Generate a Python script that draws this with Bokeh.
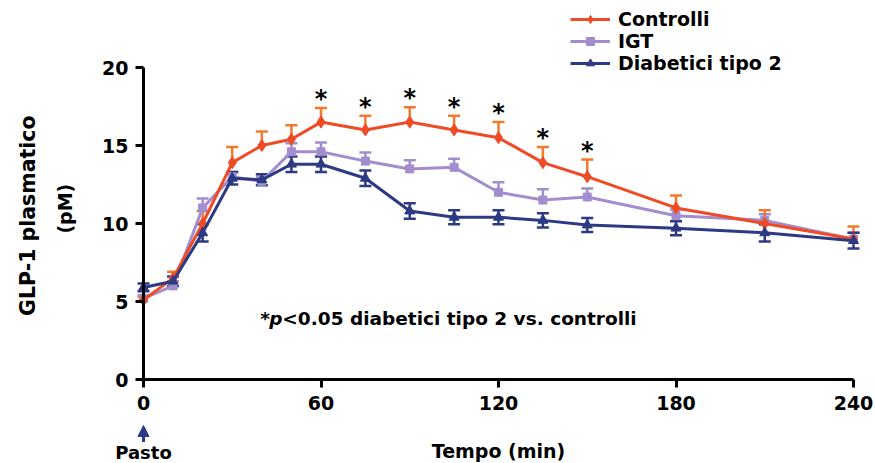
import math
from bokeh.plotting import figure
from bokeh.models import (Range1d, FixedTicker, Legend, LegendItem,
                          Whisker, TeeHead, ColumnDataSource, Label, Arrow, NormalHead)
from bokeh.embed import file_html
from bokeh.resources import INLINE
from bokeh.core.properties import value

# ---------------- data ----------------
time_min = [0, 10, 20, 30, 40, 50, 60, 75, 90, 105, 120, 135, 150, 180, 210, 240]

controlli = [5.1, 6.5, 10.0, 13.9, 15.0, 15.4, 16.5, 16.0, 16.5, 16.0, 15.5, 13.9, 13.0, 11.0, 10.0, 9.0]
controlli_err = [0.2, 0.4, 0.8, 1.0, 0.9, 0.9, 0.9, 0.9, 0.95, 0.9, 1.0, 1.0, 1.1, 0.8, 0.85, 0.8]

igt = [5.2, 6.0, 11.0, 13.0, 12.7, 14.6, 14.6, 14.0, 13.5, 13.6, 12.0, 11.5, 11.7, 10.5, 10.2, 9.0]
igt_err = [0.2, 0.3, 0.6, 0.3, 0.3, 0.55, 0.6, 0.55, 0.55, 0.55, 0.65, 0.7, 0.55, 0.4, 0.4, 0.4]

diabetici = [5.9, 6.3, 9.4, 12.9, 12.8, 13.8, 13.8, 12.9, 10.8, 10.4, 10.4, 10.2, 9.9, 9.7, 9.4, 8.9]
diabetici_err = [0.25, 0.3, 0.55, 0.4, 0.35, 0.5, 0.5, 0.5, 0.5, 0.45, 0.45, 0.45, 0.45, 0.45, 0.55, 0.5]

signif_times = [60, 75, 90, 105, 120, 135, 150]

x_ticks = [0, 60, 120, 180, 240]
y_ticks = [0, 5, 10, 15, 20]

series_names = ["Controlli", "IGT", "Diabetici tipo 2"]
note_star = "*"
note_p = "p"
note_rest = "<0.05 diabetici tipo 2 vs. controlli"
x_label = "Tempo (min)"
y_label_1 = "GLP-1 plasmatico"
y_label_2 = "(pM)"
meal_label = "Pasto"

# ---------------- style ----------------
FONT = "DejaVu Sans"
C_CTRL = "#EE4B26"
C_CTRL_ERR = "#F07A2E"
C_IGT = "#A28ECF"
C_DM = "#2C3983"

W, H = 875, 463
X0_PX, XSCALE = 143.0, 710.0 / 240.0   # pixel of t=0, px per minute
Y0_PX, YSCALE = 379.0, 15.6            # pixel of 0 pM, px per pM

p = figure(width=W, height=H, output_backend="svg", toolbar_location=None,
           x_range=Range1d(-X0_PX / XSCALE, (W - X0_PX) / XSCALE),
           y_range=Range1d((Y0_PX - H) / YSCALE, Y0_PX / YSCALE),
           min_border=0, min_border_left=0, min_border_right=0,
           min_border_top=0, min_border_bottom=0,
           background_fill_color="white", border_fill_color="white")
p.outline_line_color = None
p.grid.visible = False

for ax in (p.xaxis[0], p.yaxis[0]):
    ax.fixed_location = 0
    ax.axis_line_width = 3
    ax.axis_line_color = "black"
    ax.major_tick_line_width = 3
    ax.major_tick_line_color = "black"
    ax.major_tick_out = 8
    ax.major_tick_in = 0
    ax.minor_tick_out = 0
    ax.minor_tick_in = 0
    ax.major_label_text_font = FONT
    ax.major_label_text_font_style = "bold"
    ax.major_label_text_font_size = "19px"
    ax.major_label_text_color = "black"

p.xaxis.ticker = FixedTicker(ticks=x_ticks)
p.yaxis.ticker = FixedTicker(ticks=y_ticks)
p.xaxis.bounds = (0, 240)
p.yaxis.bounds = (0, 20)
p.xaxis.major_label_standoff = 8
p.yaxis.major_label_standoff = 7

# ---------------- series ----------------
def add_series(ys, errs, color, err_color, marker, msize, both):
    lower = [y - e for y, e in zip(ys, errs)] if both else list(ys)
    upper = [y + e for y, e in zip(ys, errs)]
    src = ColumnDataSource(dict(x=time_min, y=ys, lower=lower, upper=upper))
    w = Whisker(source=src, base="x", upper="upper", lower="lower", dimension="height",
                line_color=err_color, line_width=2.5,
                upper_head=TeeHead(size=12, line_color=err_color, line_width=2.5),
                lower_head=TeeHead(size=12, line_color=err_color, line_width=2.5) if both else None)
    p.add_layout(w)
    ln = p.line("x", "y", source=src, line_color=color, line_width=3)
    sc = p.scatter("x", "y", source=src, marker=marker, size=msize,
                   fill_color=color, line_color=color)
    return [ln, sc]

r_igt = add_series(igt, igt_err, C_IGT, C_IGT, "square", 8, False)
r_ctrl = add_series(controlli, controlli_err, C_CTRL, C_CTRL_ERR, "diamond", 12, False)
r_dm = add_series(diabetici, diabetici_err, C_DM, C_DM, "triangle", 10, True)

# significance stars
star_y = [controlli[time_min.index(t)] + controlli_err[time_min.index(t)] + 0.9 for t in signif_times]
p.text(x=signif_times, y=star_y, text=["*"] * len(signif_times),
       text_font=value(FONT), text_font_style="bold", text_font_size="24px",
       text_align="center", text_baseline="middle", y_offset=5, text_color="black")

# note
note_kw = dict(text_font=FONT, text_font_size="18.5px", text_baseline="middle",
               text_color="black")
p.add_layout(Label(x=39.5, y=3.9, text=note_star, text_font_style="bold", **note_kw))
p.add_layout(Label(x=39.5, y=3.9, x_offset=9, text=note_p, text_font_style="bold italic", **note_kw))
p.add_layout(Label(x=39.5, y=3.9, x_offset=22, text=note_rest, text_font_style="bold", **note_kw))

# axis titles
title_kw = dict(text_font=FONT, text_font_style="bold", text_color="black",
                text_align="center", text_baseline="middle")
p.add_layout(Label(x=120, y=-4.6, text=x_label, text_font_size="19px", **title_kw))
p.add_layout(Label(x=-39.2, y=10.5, text=y_label_1, angle=math.pi / 2,
                   text_font_size="20.5px", **title_kw))
p.add_layout(Label(x=-26.4, y=10.95, text=y_label_2, angle=math.pi / 2,
                   text_font_size="19px", **title_kw))

# meal marker
p.add_layout(Arrow(x_start=0, y_start=-4.0, x_end=0, y_end=-2.95, line_color=C_DM, line_width=3,
                   end=NormalHead(size=11, fill_color=C_DM, line_color=C_DM)))
p.add_layout(Label(x=0, y=-4.65, text=meal_label, text_font_size="18px", **title_kw))

# legend: one single-item legend per row so the row pitch matches the original
legend_rows = [(series_names[0], r_ctrl, 433),
               (series_names[1], r_igt, 411),
               (series_names[2], r_dm, 389)]
for name, rends, ybot in legend_rows:
    lg = Legend(items=[LegendItem(label=name, renderers=rends)],
                location=(570, ybot), orientation="vertical",
                label_text_font=FONT, label_text_font_style="bold", label_text_font_size="19px",
                label_text_color="black", glyph_width=40, glyph_height=20, label_height=20,
                spacing=0, padding=0, margin=0, label_standoff=8,
                border_line_color=None, background_fill_alpha=0)
    p.add_layout(lg)

open("out.html", "w").write(file_html(p, INLINE))
